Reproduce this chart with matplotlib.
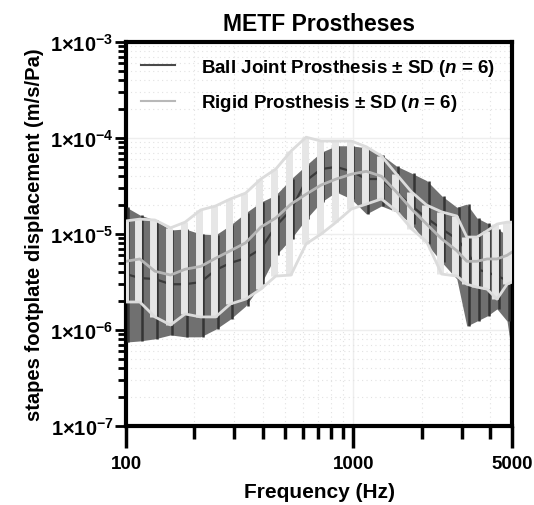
import numpy as np
import matplotlib
matplotlib.use("Agg")
import matplotlib.pyplot as plt
from matplotlib.ticker import FixedLocator, FuncFormatter, LogLocator, NullFormatter

plt.rcParams['font.family'] = ['Liberation Sans', 'DejaVu Sans']
plt.rcParams['font.weight'] = 'bold'
plt.rcParams['mathtext.fontset'] = 'custom'
plt.rcParams['mathtext.rm'] = 'Liberation Sans:bold'
plt.rcParams['mathtext.bf'] = 'Liberation Sans:bold'
plt.rcParams['mathtext.it'] = 'Liberation Sans:bold:italic'
plt.rcParams['mathtext.default'] = 'bf'

# frequency (Hz)
freq = [100, 115, 134, 157, 182, 213, 248, 288, 336, 392, 456, 532, 620, 722, 841,
        980, 1142, 1330, 1550, 1806, 2104, 2450, 2856, 3160, 3500, 3880, 4290, 4750, 5000]

# ball joint prosthesis: mean and mean +/- SD (m/s/Pa)
ball_mean = [3.83e-6, 3.48e-6, 3.4e-6, 3.0e-6, 3.0e-6, 3.16e-6, 4.22e-6, 5.0e-6, 5.6e-6, 7.0e-6,
             1.21e-5, 1.78e-5, 3.6e-5, 4.75e-5, 5.0e-5, 4.5e-5, 3.74e-5, 3.74e-5, 2.74e-5, 1.96e-5,
             1.47e-5, 1.13e-5, 8.9e-6, 6.7e-6, 4.3e-6, 4.0e-6, 3.65e-6, 3.3e-6, 3.1e-6]
ball_upper = [1.91e-5, 1.58e-5, 1.40e-5, 1.10e-5, 1.13e-5, 1.0e-5, 9.8e-6, 1.24e-5, 1.66e-5, 2.15e-5,
              2.55e-5, 3.74e-5, 5.2e-5, 7.1e-5, 8.3e-5, 8.3e-5, 7.9e-5, 6.7e-5, 5.1e-5, 4.3e-5,
              3.6e-5, 2.5e-5, 1.9e-5, 2.05e-5, 1.47e-5, 1.30e-5, 1.13e-5, 9.8e-6, 3.0e-6]
ball_lower = [7.5e-7, 7.7e-7, 8.1e-7, 8.9e-7, 8.5e-7, 8.5e-7, 1.02e-6, 1.30e-6, 1.78e-6, 3.0e-6,
              6.0e-6, 8.9e-6, 1.43e-5, 2.15e-5, 2.74e-5, 2.32e-5, 1.62e-5, 1.96e-5, 1.70e-5, 1.27e-5,
              7.9e-6, 5.1e-6, 3.4e-6, 1.1e-6, 1.24e-6, 1.40e-6, 1.66e-6, 1.24e-6, 5.4e-7]

# rigid prosthesis: mean and mean +/- SD (m/s/Pa)
rigid_mean = [5.2e-6, 5.5e-6, 4.1e-6, 3.74e-6, 4.3e-6, 4.6e-6, 5.6e-6, 6.7e-6, 8.1e-6, 1.18e-5,
              1.47e-5, 2.05e-5, 2.6e-5, 3.24e-5, 3.74e-5, 4.2e-5, 4.5e-5, 4.0e-5, 2.74e-5, 1.82e-5,
              1.27e-5, 8.9e-6, 6.7e-6, 5.2e-6, 5.2e-6, 5.5e-6, 5.5e-6, 6.0e-6, 6.5e-6]
rigid_upper = [1.37e-5, 1.43e-5, 1.40e-5, 1.16e-5, 1.33e-5, 1.78e-5, 1.96e-5, 2.32e-5, 2.67e-5, 3.74e-5,
               4.75e-5, 7.3e-5, 1.02e-4, 9.3e-5, 9.3e-5, 9.3e-5, 8.1e-5, 6.5e-5, 4.2e-5, 2.74e-5,
               2.0e-5, 1.70e-5, 1.54e-5, 9.3e-6, 9.3e-6, 1.08e-5, 1.27e-5, 1.33e-5, 1.33e-5]
rigid_lower = [1.96e-6, 1.96e-6, 1.37e-6, 1.13e-6, 1.47e-6, 1.37e-6, 1.37e-6, 1.87e-6, 2.1e-6, 2.67e-6,
               3.65e-6, 3.74e-6, 7.9e-6, 1.0e-5, 1.33e-5, 1.82e-5, 2.05e-5, 2.32e-5, 1.74e-5, 1.13e-5,
               8.3e-6, 3.83e-6, 3.65e-6, 3.0e-6, 2.8e-6, 2.67e-6, 2.1e-6, 3.0e-6, 3.16e-6]

x_ticks = [100, 1000, 5000]
y_ticks = [1e-7, 1e-6, 1e-5, 1e-4, 1e-3]

f = np.array(freq)

fig = plt.figure(figsize=(5.34, 5.06), dpi=100)
ax = fig.add_axes([0.236, 0.156, 0.723, 0.759])

# ball joint band + error bars
ax.fill_between(f, ball_lower, ball_upper, color='#707070', lw=0, zorder=2)
ax.vlines(f * 1.02, ball_lower, ball_upper, color='#353535', lw=1.8, zorder=3)
ax.plot(f, ball_mean, color='#3a3a3a', lw=1.6, zorder=3)

# rigid error bars + lines
ax.vlines(f * 0.985, rigid_lower, rigid_upper, color='#e6e6e6', lw=5, zorder=4)
ax.plot(f, rigid_upper, color='#dcdcdc', lw=2, zorder=5)
ax.plot(f, rigid_lower, color='#dcdcdc', lw=2, zorder=5)
ax.plot(f, rigid_mean, color='#b5b5b5', lw=2, zorder=5)

# legend handles
ax.plot([], [], color='#4a4a4a', lw=1.5, label=r'Ball Joint Prosthesis ± SD ($\mathit{n}$ = 6)')
ax.plot([], [], color='#b8b8b8', lw=1.5, label=r'Rigid Prosthesis ± SD ($\mathit{n}$ = 6)')

ax.set_xscale('log')
ax.set_yscale('log')
ax.set_xlim(100, 5000)
ax.set_ylim(1e-7, 1e-3)

ax.xaxis.set_major_locator(FixedLocator(x_ticks))
ax.xaxis.set_major_formatter(FuncFormatter(lambda v, p: '%d' % v))
ax.xaxis.set_minor_locator(FixedLocator([200, 300, 400, 500, 600, 700, 800, 900, 2000, 3000, 4000]))
ax.xaxis.set_minor_formatter(NullFormatter())

ax.yaxis.set_major_locator(FixedLocator(y_ticks))
ax.yaxis.set_major_formatter(FuncFormatter(
    lambda v, p: r'$1{\times}10^{%d}$' % int(round(np.log10(v)))))
ax.yaxis.set_minor_locator(LogLocator(base=10, subs=np.arange(2, 10)))
ax.yaxis.set_minor_formatter(NullFormatter())

ax.grid(which='major', color='#eeeeee', lw=1, zorder=0)
ax.grid(which='minor', color='#e2e2e2', lw=0.8, ls=(0, (1, 3)), zorder=0)
ax.set_axisbelow(True)

for s in ax.spines.values():
    s.set_linewidth(3)
ax.tick_params(axis='x', which='major', length=16, width=2.5, labelsize=13.5, pad=5)
ax.tick_params(axis='x', which='minor', length=9, width=2.5)
ax.tick_params(axis='y', which='major', length=8, width=2, labelsize=14.5, pad=1)
ax.tick_params(axis='y', which='minor', length=6, width=2)

ax.set_title('METF Prostheses', fontsize=16.5, fontweight='bold', pad=9)
ax.set_xlabel('Frequency (Hz)', fontsize=15, fontweight='bold', labelpad=7)
ax.set_ylabel('stapes footplate displacement (m/s/Pa)', fontsize=14.5, fontweight='bold', labelpad=4)

ax.legend(loc='upper left', frameon=False, fontsize=13.5, handlelength=1.8,
          handletextpad=1.4, labelspacing=0.75, borderaxespad=0.4,
          bbox_to_anchor=(0.0, 1.0))

fig.savefig('out.png', dpi=100)
